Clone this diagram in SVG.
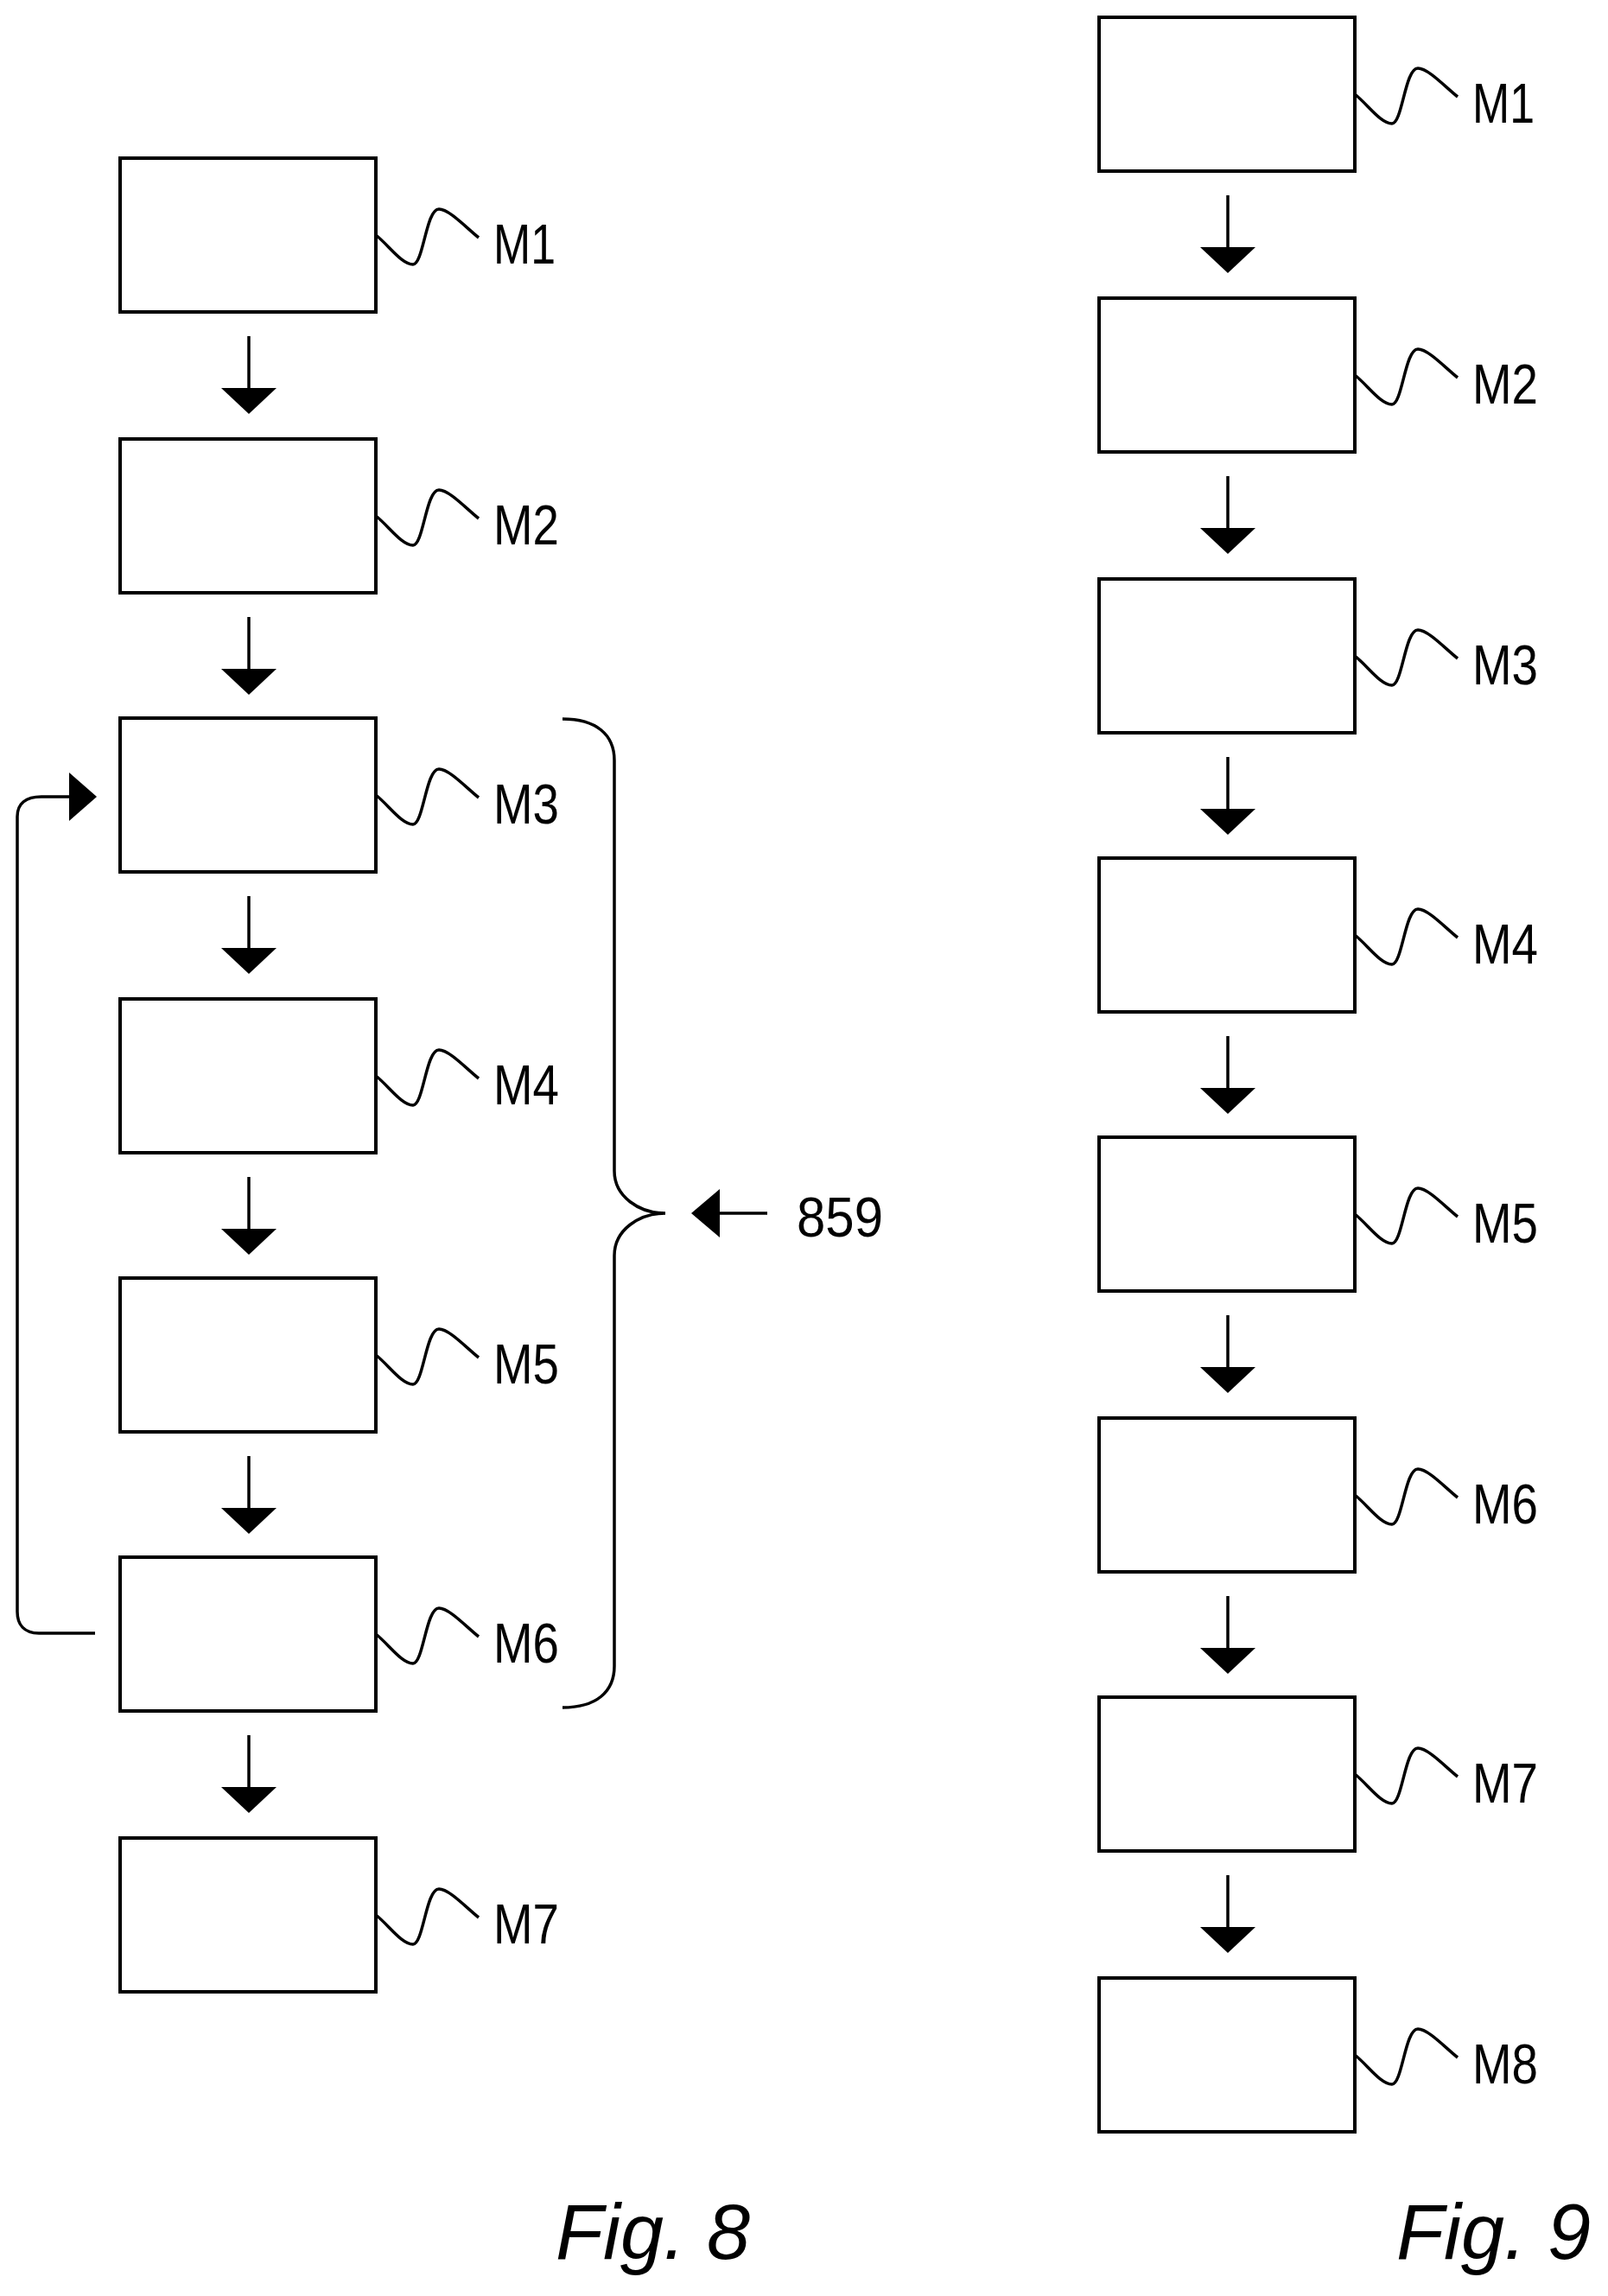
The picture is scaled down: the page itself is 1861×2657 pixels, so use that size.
<svg xmlns="http://www.w3.org/2000/svg" width="1861" height="2657" viewBox="0 0 1861 2657">
<defs>
<style>
.b{fill:#fff;stroke:#000;stroke-width:4}
.l{fill:none;stroke:#000;stroke-width:3.5}
.h{fill:#000}
.t{font-family:"Liberation Sans",Arial,sans-serif;font-size:64px;fill:#000}
.f{font-family:"Liberation Sans",Arial,sans-serif;font-size:90px;font-style:italic;fill:#000}
</style>
<path id="sq" class="l" d="M0,0 C15,12 30,34 43,34 C55,34 58,-30 73,-30 C85,-30 105,-8 119,3"/>
<g id="ar"><line class="l" x1="0" y1="28" x2="0" y2="90"/><path class="h" d="M-32,88 L32,88 L0,118 Z"/></g>
</defs>
<rect width="1861" height="2657" fill="#fff"/>
<g id="fig8">
<g id="f8m1"><rect class="b" x="139" y="183" width="296" height="178"/><use href="#sq" x="435" y="272"/><text class="t" x="571" y="305" textLength="72" lengthAdjust="spacingAndGlyphs">M1</text></g>
<g id="f8m2"><rect class="b" x="139" y="508" width="296" height="178"/><use href="#sq" x="435" y="597"/><text class="t" x="571" y="630" textLength="76" lengthAdjust="spacingAndGlyphs">M2</text></g>
<g id="f8m3"><rect class="b" x="139" y="831" width="296" height="178"/><use href="#sq" x="435" y="920"/><text class="t" x="571" y="953" textLength="76" lengthAdjust="spacingAndGlyphs">M3</text></g>
<g id="f8m4"><rect class="b" x="139" y="1156" width="296" height="178"/><use href="#sq" x="435" y="1245"/><text class="t" x="571" y="1278" textLength="76" lengthAdjust="spacingAndGlyphs">M4</text></g>
<g id="f8m5"><rect class="b" x="139" y="1479" width="296" height="178"/><use href="#sq" x="435" y="1568"/><text class="t" x="571" y="1601" textLength="76" lengthAdjust="spacingAndGlyphs">M5</text></g>
<g id="f8m6"><rect class="b" x="139" y="1802" width="296" height="178"/><use href="#sq" x="435" y="1891"/><text class="t" x="571" y="1924" textLength="76" lengthAdjust="spacingAndGlyphs">M6</text></g>
<g id="f8m7"><rect class="b" x="139" y="2127" width="296" height="178"/><use href="#sq" x="435" y="2216"/><text class="t" x="571" y="2249" textLength="76" lengthAdjust="spacingAndGlyphs">M7</text></g>
<g id="f8brace"><path class="l" d="M651,832 C690,832 711,850 711,880 L711,1355 C711,1385 740,1404 770,1404 C740,1404 711,1423 711,1453 L711,1928 C711,1958 690,1976 651,1976"/></g>
<g id="f8ref"><line class="l" x1="830" y1="1404" x2="888" y2="1404"/><path class="h" d="M833,1376 L833,1432 L800,1404 Z"/><text class="t" x="922" y="1431" textLength="100" lengthAdjust="spacingAndGlyphs">859</text></g>
<text class="f" x="643" y="2614">Fig. 8</text>
</g>
<g id="fig9">
<g id="f9m1"><rect class="b" x="1272" y="20" width="296" height="178"/><use href="#sq" x="1568" y="109"/><text class="t" x="1704" y="142" textLength="72" lengthAdjust="spacingAndGlyphs">M1</text></g>
<g id="f9m2"><rect class="b" x="1272" y="345" width="296" height="178"/><use href="#sq" x="1568" y="434"/><text class="t" x="1704" y="467" textLength="76" lengthAdjust="spacingAndGlyphs">M2</text></g>
<g id="f9m3"><rect class="b" x="1272" y="670" width="296" height="178"/><use href="#sq" x="1568" y="759"/><text class="t" x="1704" y="792" textLength="76" lengthAdjust="spacingAndGlyphs">M3</text></g>
<g id="f9m4"><rect class="b" x="1272" y="993" width="296" height="178"/><use href="#sq" x="1568" y="1082"/><text class="t" x="1704" y="1115" textLength="76" lengthAdjust="spacingAndGlyphs">M4</text></g>
<g id="f9m5"><rect class="b" x="1272" y="1316" width="296" height="178"/><use href="#sq" x="1568" y="1405"/><text class="t" x="1704" y="1438" textLength="76" lengthAdjust="spacingAndGlyphs">M5</text></g>
<g id="f9m6"><rect class="b" x="1272" y="1641" width="296" height="178"/><use href="#sq" x="1568" y="1730"/><text class="t" x="1704" y="1763" textLength="76" lengthAdjust="spacingAndGlyphs">M6</text></g>
<g id="f9m7"><rect class="b" x="1272" y="1964" width="296" height="178"/><use href="#sq" x="1568" y="2053"/><text class="t" x="1704" y="2086" textLength="76" lengthAdjust="spacingAndGlyphs">M7</text></g>
<g id="f9m8"><rect class="b" x="1272" y="2289" width="296" height="178"/><use href="#sq" x="1568" y="2378"/><text class="t" x="1704" y="2411" textLength="76" lengthAdjust="spacingAndGlyphs">M8</text></g>
<text class="f" x="1616" y="2614">Fig. 9</text>
</g>
<g id="connectors">
<use href="#ar" x="288" y="361"/><use href="#ar" x="288" y="686"/><use href="#ar" x="288" y="1009"/><use href="#ar" x="288" y="1334"/><use href="#ar" x="288" y="1657"/><use href="#ar" x="288" y="1980"/>
<path class="l" d="M110,1890 L45,1890 C28,1890 20,1880 20,1865 L20,945 C20,930 30,922 48,922 L82,922"/>
<path class="h" d="M80,894 L80,950 L112,922 Z"/>
<use href="#ar" x="1421" y="198"/><use href="#ar" x="1421" y="523"/><use href="#ar" x="1421" y="848"/><use href="#ar" x="1421" y="1171"/><use href="#ar" x="1421" y="1494"/><use href="#ar" x="1421" y="1819"/><use href="#ar" x="1421" y="2142"/>
</g>
</svg>
